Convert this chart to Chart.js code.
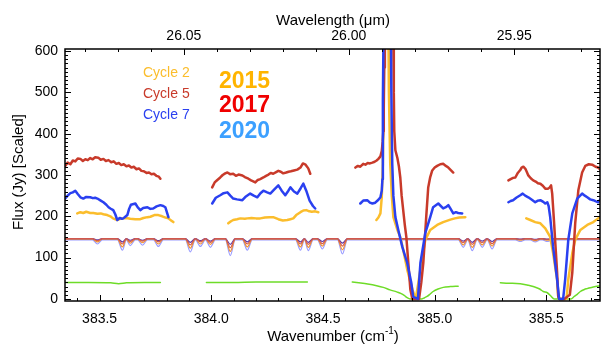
<!DOCTYPE html>
<html>
<head>
<meta charset="utf-8">
<script src="https://cdn.jsdelivr.net/npm/chart.js@4.4.0/dist/chart.umd.min.js"></script>
<style>
  html, body { margin: 0; padding: 0; background: #fff; }
  #wrap { width: 605px; height: 346px; position: relative; }
</style>
</head>
<body>
<div id="wrap"><canvas id="spectrum"></canvas></div>
<script>
// axis ticks
const xTicks = [383.5, 384.0, 384.5, 385.0, 385.5];
const wavelengthTicks = [26.05, 26.00, 25.95];
const yTicks = [0, 100, 200, 300, 400, 500, 600];

// Cycle 5 (red) - null marks a gap between spectral orders
const c5Wn = [
  383.346, 383.357, 383.369, 383.380, 383.391, 383.402, 383.414, 383.425, 383.436, 383.447,
  383.458, 383.469, 383.480, 383.494, 383.505, 383.517, 383.528, 383.540, 383.552, 383.563,
  383.575, 383.586, 383.597, 383.608, 383.620, 383.631, 383.642, 383.653, 383.665, 383.676,
  383.687, 383.698, 383.710, 383.721, 383.732, 383.743, 383.754, 383.765, 383.772,
  383.900,
  384.004, 384.015, 384.027, 384.040, 384.051, 384.062, 384.072, 384.084, 384.098, 384.110,
  384.122, 384.139, 384.150, 384.166, 384.178, 384.190, 384.197, 384.208, 384.219, 384.233,
  384.245, 384.256, 384.266, 384.277, 384.290, 384.300, 384.311, 384.322, 384.335, 384.346,
  384.356, 384.370, 384.385, 384.399, 384.410, 384.422, 384.434, 384.443,
  384.550,
  384.645, 384.656, 384.667, 384.680, 384.690, 384.700, 384.710, 384.721, 384.731, 384.740,
  384.748, 384.757, 384.763, 384.767, 384.770, 384.772, 384.774, 384.777, 384.780, 384.800,
  384.812, 384.815, 384.817, 384.819, 384.824, 384.833, 384.840, 384.846, 384.852, 384.859,
  384.866, 384.873, 384.882, 384.891, 384.900, 384.915, 384.930, 384.940, 384.949, 384.962,
  384.971, 384.980, 384.989, 385.000, 385.011, 385.025, 385.038, 385.050, 385.061, 385.072,
  385.083,
  385.200,
  385.330, 385.340, 385.351, 385.361, 385.372, 385.383, 385.389, 385.397, 385.406, 385.412,
  385.419, 385.430, 385.441, 385.452, 385.462, 385.473, 385.484, 385.495, 385.508, 385.515,
  385.521, 385.526, 385.530, 385.535, 385.539, 385.544, 385.548, 385.553, 385.557, 385.580,
  385.605, 385.616, 385.629, 385.643, 385.660, 385.674, 385.690, 385.705, 385.720, 385.732,
  385.745
];
const c5Flux = [
  322, 330, 326, 335, 333, 340, 339, 334, 338, 336,
  341, 338, 343, 342, 337, 339, 334, 336, 331, 333,
  327, 329, 324, 326, 321, 323, 318, 320, 314, 316,
  310, 309, 305, 306, 302, 303, 298, 296, 291,
  null,
  270, 282, 288, 294, 300, 304, 306, 302, 303, 298,
  301, 299, 295, 291, 287, 284, 282, 288, 290, 294,
  298, 301, 305, 303, 307, 310, 308, 304, 306, 308,
  309, 311, 313, 318, 328, 325, 316, 303,
  null,
  318, 322, 320, 327, 325, 329, 328, 330, 332, 335,
  339, 345, 358, 380, 406, 460, 560, 700, 900, 950,
  800, 620, 500, 406, 360, 341, 320, 294, 250, 215,
  180, 150, 87, 23, 0, 0, 0, 40, 87, 198,
  270, 295, 311, 318, 322, 326, 327, 322, 318, 312,
  306,
  null,
  287, 290, 293, 294, 305, 312, 318, 320, 315, 308,
  299, 292, 287, 284, 280, 279, 274, 267, 267, 270,
  275, 255, 222, 180, 143, 100, 64, 6, 0, 0,
  10, 64, 183, 263, 306, 322, 326, 325, 320, 318,
  311
];

// Cycle 7 (blue)
const c7Wn = [
  383.346, 383.357, 383.369, 383.380, 383.391, 383.402, 383.414, 383.427, 383.440, 383.458,
  383.470, 383.480, 383.490, 383.505, 383.517, 383.530, 383.540, 383.548, 383.561, 383.570,
  383.579, 383.590, 383.600, 383.606, 383.615, 383.624, 383.632, 383.640, 383.660, 383.670,
  383.682, 383.695, 383.714, 383.727, 383.740, 383.755, 383.772, 383.785, 383.794, 383.808,
  383.900,
  384.004, 384.020, 384.040, 384.055, 384.072, 384.085, 384.098, 384.115, 384.139, 384.155,
  384.174, 384.190, 384.206, 384.220, 384.233, 384.250, 384.264, 384.280, 384.300, 384.315,
  384.331, 384.345, 384.354, 384.370, 384.385, 384.400, 384.412, 384.425, 384.440, 384.455,
  384.465,
  384.550,
  384.667, 384.680, 384.698, 384.710, 384.721, 384.734, 384.748, 384.757, 384.763, 384.766,
  384.768, 384.771, 384.776, 384.798, 384.803, 384.806, 384.810, 384.815, 384.824, 384.837,
  384.855, 384.877, 384.895, 384.904, 384.925, 384.936, 384.958, 384.980, 384.993, 385.016,
  385.038, 385.050, 385.061, 385.070, 385.083, 385.095, 385.105, 385.123,
  385.200,
  385.330, 385.340, 385.351, 385.365, 385.383, 385.394, 385.405, 385.419, 385.435, 385.450,
  385.462, 385.473, 385.486, 385.495, 385.504, 385.510, 385.517, 385.530, 385.548, 385.557,
  385.575, 385.584, 385.598, 385.616, 385.638, 385.660, 385.672, 385.683, 385.696, 385.710,
  385.722, 385.732, 385.745
];
const c7Flux = [
  243, 250, 256, 258, 262, 254, 246, 243, 247, 246,
  244, 245, 243, 238, 234, 228, 222, 219, 215, 205,
  191, 196, 194, 195, 199, 203, 218, 228, 231, 222,
  215, 220, 222, 218, 219, 224, 227, 225, 222, 198,
  null,
  231, 245, 251, 256, 258, 250, 243, 241, 239, 248,
  255, 250, 246, 256, 262, 258, 255, 264, 275, 262,
  251, 262, 270, 260, 255, 268, 279, 262, 238, 225,
  219,
  null,
  231, 238, 239, 233, 231, 233, 240, 246, 262, 290,
  480, 650, 900, 900, 700, 500, 327, 250, 198, 167,
  126, 87, 40, 5, 0, 87, 160, 198, 222, 231,
  219, 222, 227, 219, 207, 210, 208, 207,
  null,
  234, 237, 239, 245, 251, 255, 250, 246, 240, 234,
  238, 239, 235, 231, 234, 225, 198, 126, 47, 0,
  0, 47, 143, 207, 243, 255, 250, 246, 241, 239,
  236, 234, 243
];

// Cycle 2 (yellow)
const c2Wn = [
  383.400, 383.414, 383.427, 383.440, 383.458, 383.472, 383.490, 383.505, 383.517, 383.534,
  383.548, 383.560, 383.579, 383.592, 383.606, 383.620, 383.637, 383.660, 383.682, 383.696,
  383.714, 383.727, 383.745, 383.763, 383.780, 383.795, 383.808, 383.820, 383.830,
  383.950,
  384.076, 384.088, 384.098, 384.115, 384.130, 384.150, 384.161, 384.180, 384.200, 384.219,
  384.240, 384.260, 384.277, 384.300, 384.320, 384.340, 384.354, 384.367, 384.380, 384.399,
  384.412, 384.425, 384.434, 384.450, 384.465, 384.479,
  384.600,
  384.739, 384.748, 384.757, 384.763, 384.768, 384.772, 384.775, 384.778, 384.788, 384.792,
  384.795, 384.801, 384.808, 384.815, 384.833, 384.846, 384.859, 384.877, 384.900, 384.915,
  384.927, 384.945, 384.958, 384.980, 385.011, 385.038, 385.070, 385.090, 385.110, 385.137,
  385.300,
  385.410, 385.428, 385.450, 385.473, 385.495, 385.517, 385.530, 385.548, 385.553, 385.560,
  385.590, 385.598, 385.616, 385.629, 385.652, 385.683, 385.710, 385.732, 385.754
];
const c2Flux = [
  207, 210, 208, 211, 208, 208, 206, 207, 205, 203,
  200, 195, 191, 194, 195, 196, 194, 193, 193, 196,
  198, 199, 203, 203, 200, 197, 195, 190, 186,
  null,
  183, 188, 191, 193, 195, 194, 195, 196, 195, 195,
  197, 198, 198, 193, 190, 191, 193, 195, 203, 210,
  214, 215, 213, 211, 212, 210,
  null,
  191, 197, 207, 246, 327, 500, 700, 900, 900, 700,
  500, 327, 250, 198, 167, 150, 119, 71, 23, 0,
  40, 102, 143, 167, 179, 186, 192, 195, 197, 198,
  null,
  195, 191, 186, 183, 171, 150, 111, 47, 6, 0,
  0, 47, 111, 143, 167, 179, 186, 195, 203
];

// green model curve
const greenWn = [
  383.346, 383.450, 383.550, 383.585, 383.620, 383.700, 383.772,
  383.900,
  383.978, 384.100, 384.200, 384.300, 384.430,
  384.530,
  384.631, 384.660, 384.700, 384.740, 384.770, 384.800, 384.830, 384.850, 384.865, 384.877,
  384.890, 384.940, 384.955, 384.966, 384.980, 384.993, 385.015, 385.038, 385.070, 385.105,
  385.200,
  385.294, 385.330, 385.383, 385.420, 385.441, 385.470, 385.486, 385.504, 385.520, 385.535,
  385.610, 385.625, 385.638, 385.652, 385.670, 385.683, 385.710, 385.745
];
const greenFlux = [
  40, 40, 39, 37, 39, 40, 40,
  null,
  40, 40, 41, 41, 41,
  null,
  41, 39, 36, 32, 28, 22, 17, 13, 8, 3,
  0, 0, 3, 6, 12, 18, 24, 28, 30, 31,
  null,
  39, 38, 37, 33, 30, 24, 18, 15, 7, 0,
  0, 6, 11, 18, 23, 25, 29, 32
];

// thin model lines: absorption line centres and depth below each baseline
const dipWn = [383.490, 383.602, 383.637, 383.692, 383.763, 383.906, 383.951, 383.996, 384.085, 384.161,
               384.399, 384.434, 384.497, 384.587, 385.128, 385.168, 385.213, 385.257, 385.383, 385.450, 385.504];
const dipLavender = [10, 25, 14, 13, 16, 29, 16, 18, 38, 25, 25, 26, 22, 34, 18, 26, 18, 22, 4, 5, 4];
const dipOrange   = [7, 19, 10, 9, 12, 22, 12, 13, 30, 19, 19, 20, 17, 26, 14, 20, 14, 17, 3, 4, 3];
const dipRed      = [5, 13, 7, 6, 8, 15, 8, 9, 22, 13, 13, 14, 12, 18, 10, 14, 10, 12, 2, 3, 2];
const dipNavy     = [3, 8, 4, 4, 5, 9, 5, 6, 14, 8, 8, 9, 7, 11, 6, 9, 6, 7, 1, 2, 1];

const X_MIN = 383.345, X_MAX = 385.74;
const DIP_HALF = 0.022;
const FONT = "'Liberation Sans', Arial, sans-serif";

function toPoints(wn, flux) {
    return wn.map((x, i) => ({ x: x, y: flux[i] }));
}

// baseline with each absorption line as a shoulder-centre-shoulder triple;
// shoulders never cross the midpoint to a neighbouring line
function modelPoints(base, depth) {
    const pts = [{ x: 383.30, y: base }];
    dipWn.forEach((c, i) => {
        const left = i > 0 ? Math.min(DIP_HALF, (c - dipWn[i - 1]) / 2) : DIP_HALF;
        const right = i < dipWn.length - 1 ? Math.min(DIP_HALF, (dipWn[i + 1] - c) / 2) : DIP_HALF;
        pts.push({ x: c - left, y: base });
        pts.push({ x: c, y: base - depth[i] });
        pts.push({ x: c + right, y: base });
    });
    pts.push({ x: 385.80, y: base });
    return pts;
}

function thinLine(data, color, order) {
    return {
        data: data,
        borderColor: color,
        borderWidth: 1.2,
        cubicInterpolationMode: 'monotone',
        order: order
    };
}

// frame, inward ticks, axis titles and the year labels
const decorPlugin = {
    id: 'decor',
    afterDraw(chart) {
        const { ctx, chartArea: a, scales } = chart;
        const sx = scales.x, sy = scales.y;
        ctx.save();
        ctx.strokeStyle = '#000';
        ctx.lineWidth = 1;
        ctx.beginPath();
        for (let i = 0; i <= 23; i++) {
            const v = 383.4 + i * 0.1;
            const px = Math.round(sx.getPixelForValue(v)) + 0.5;
            const len = Math.round(v * 10) % 5 === 0 ? 6 : 3;
            ctx.moveTo(px, a.bottom); ctx.lineTo(px, a.bottom - len);
        }
        for (let k = 2608; k >= 2593; k--) {
            const px = Math.round(sx.getPixelForValue(10000 / (k / 100))) + 0.5;
            const len = k % 5 === 0 ? 6 : 3;
            ctx.moveTo(px, a.top); ctx.lineTo(px, a.top + len);
        }
        for (let v = 0; v <= 600; v += 10) {
            const py = Math.round(sy.getPixelForValue(v)) + 0.5;
            const len = v % 100 === 0 ? 6 : 3;
            ctx.moveTo(a.left, py); ctx.lineTo(a.left + len, py);
            ctx.moveTo(a.right, py); ctx.lineTo(a.right - len, py);
        }
        ctx.stroke();
        ctx.lineWidth = 1.5;
        ctx.strokeRect(a.left, a.top, a.right - a.left, a.bottom - a.top);

        // axis titles
        ctx.fillStyle = '#000';
        ctx.font = '15px ' + FONT;
        ctx.textAlign = 'center';
        ctx.textBaseline = 'alphabetic';
        ctx.fillText('Wavelength (\u03bcm)', 333, 25);

        const main = 'Wavenumber (cm';
        const sup = '-1';
        ctx.font = '15px ' + FONT;
        const wMain = ctx.measureText(main).width;
        const wClose = ctx.measureText(')').width;
        ctx.font = '10px ' + FONT;
        const wSup = ctx.measureText(sup).width;
        let tx = 333 - (wMain + wSup + wClose) / 2;
        ctx.textAlign = 'left';
        ctx.font = '15px ' + FONT;
        ctx.fillText(main, tx, 341);
        ctx.font = '10px ' + FONT;
        ctx.fillText(sup, tx + wMain, 334);
        ctx.font = '15px ' + FONT;
        ctx.fillText(')', tx + wMain + wSup, 341);

        ctx.save();
        ctx.translate(23, 172);
        ctx.rotate(-Math.PI / 2);
        ctx.textAlign = 'center';
        ctx.fillText('Flux (Jy) [Scaled]', 0, 0);
        ctx.restore();

        // legend-like labels
        ctx.textAlign = 'left';
        ctx.font = '14px ' + FONT;
        ctx.fillStyle = '#fbbd2c'; ctx.fillText('Cycle 2', 143, 77);
        ctx.fillStyle = '#c83a2a'; ctx.fillText('Cycle 5', 143, 98);
        ctx.fillStyle = '#2a40f0'; ctx.fillText('Cycle 7', 143, 119);
        ctx.font = 'bold 23px ' + FONT;
        ctx.fillStyle = '#ffb400'; ctx.fillText('2015', 219, 88);
        ctx.fillStyle = '#f00000'; ctx.fillText('2017', 219, 112);
        ctx.fillStyle = '#3ca0ff'; ctx.fillText('2020', 219, 138);
        ctx.restore();
    }
};

document.addEventListener('DOMContentLoaded', function() {
    Chart.defaults.font.family = FONT;
    Chart.defaults.color = '#000';

    new Chart(document.getElementById('spectrum').getContext('2d'), {
        type: 'line',
        data: {
            datasets: [
                { data: toPoints(c7Wn, c7Flux), borderColor: '#2a40f0', borderWidth: 2.5, order: 1 },
                { data: toPoints(c5Wn, c5Flux), borderColor: '#c83a2a', borderWidth: 2.5, order: 2 },
                { data: toPoints(c2Wn, c2Flux), borderColor: '#fbbd2c', borderWidth: 2.5, order: 3 },
                { data: toPoints(greenWn, greenFlux), borderColor: '#6edc28', borderWidth: 1.5,
                  cubicInterpolationMode: 'monotone', order: 4 },
                thinLine(modelPoints(146, dipRed), '#d2574e', 5),
                thinLine(modelPoints(146, dipNavy), '#5a3aa8', 6),
                thinLine(modelPoints(145, dipOrange), '#f2902e', 7),
                thinLine(modelPoints(143, dipLavender), '#9a9cff', 8)
            ]
        },
        options: {
            responsive: true,
            maintainAspectRatio: false,
            animation: false,
            events: [],
            spanGaps: false,
            layout: { padding: { left: 0, right: 5, top: 0, bottom: 0 } },
            elements: {
                point: { radius: 0 },
                line: { tension: 0, borderJoinStyle: 'round', borderCapStyle: 'round' }
            },
            plugins: {
                legend: { display: false },
                tooltip: { enabled: false }
            },
            scales: {
                x: {
                    type: 'linear',
                    position: 'bottom',
                    min: X_MIN,
                    max: X_MAX,
                    grid: { display: false, drawTicks: false },
                    border: { display: false },
                    ticks: {
                        font: { size: 14 },
                        padding: 10,
                        autoSkip: false,
                        maxRotation: 0,
                        callback: (v) => v.toFixed(1)
                    },
                    afterBuildTicks: (s) => { s.ticks = xTicks.map(v => ({ value: v })); },
                    afterFit: (s) => { s.height = 45; }
                },
                x2: {
                    type: 'linear',
                    position: 'top',
                    min: X_MIN,
                    max: X_MAX,
                    grid: { display: false, drawTicks: false },
                    border: { display: false },
                    ticks: {
                        font: { size: 14 },
                        padding: 4,
                        autoSkip: false,
                        maxRotation: 0,
                        callback: (v, i) => wavelengthTicks[i].toFixed(2)
                    },
                    afterBuildTicks: (s) => { s.ticks = wavelengthTicks.map(w => ({ value: 10000 / w })); },
                    afterFit: (s) => { s.height = 49; }
                },
                y: {
                    min: -5,
                    max: 605,
                    grid: { display: false, drawTicks: false },
                    border: { display: false },
                    ticks: { font: { size: 14 }, padding: 7 },
                    afterBuildTicks: (s) => { s.ticks = yTicks.map(v => ({ value: v })); },
                    afterFit: (s) => { s.width = 65; }
                }
            }
        },
        plugins: [decorPlugin]
    });
});
</script>
</body>
</html>
